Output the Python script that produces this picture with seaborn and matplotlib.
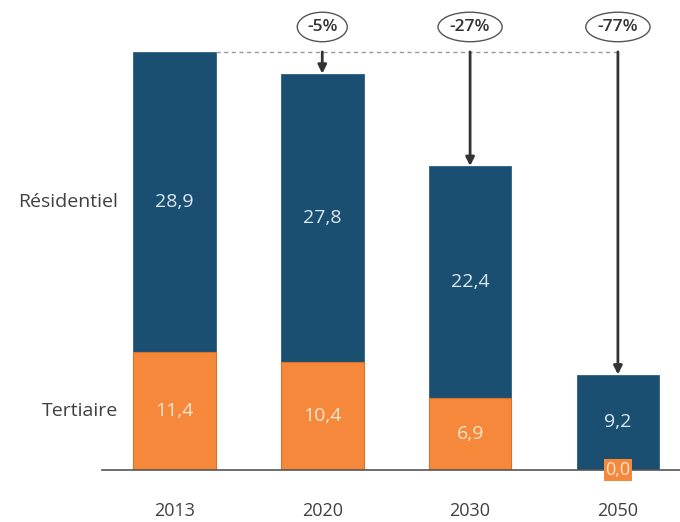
import matplotlib
matplotlib.use('Agg')
import matplotlib.pyplot as plt
import seaborn as sns
import pandas as pd

# Chart data
years = ['2013', '2020', '2030', '2050']
residentiel = [28.9, 27.8, 22.4, 9.2]
tertiaire = [11.4, 10.4, 6.9, 0.0]
reductions = ['-5%', '-27%', '-77%']
categories = ['Résidentiel', 'Tertiaire']

blue = '#1b4f72'
orange = '#f5883a'
grey_text = '#404040'

df = pd.DataFrame({'year': years, 'residentiel': residentiel, 'tertiaire': tertiaire})
df['total'] = df['residentiel'] + df['tertiaire']

sns.set_style('white')
plt.rcParams['font.family'] = ['Open Sans', 'DejaVu Sans']

fig = plt.figure(figsize=(6.8, 5.22), dpi=100)
ax = fig.add_axes([0.15, 0.0996, 0.85, 0.9004])

bar_w = 0.56
# stacked look: total bars in blue, tertiaire bars in orange on top of them
sns.barplot(data=df, x='year', y='total', color=blue, saturation=1, width=bar_w,
            order=years, ax=ax, edgecolor='#2b5f85', linewidth=0.6)
sns.barplot(data=df, x='year', y='tertiaire', color=orange, saturation=1, width=bar_w,
            order=years, ax=ax, edgecolor='#d9722a', linewidth=0.8)

ax.set_xlim(-0.49, 3.42)
ax.set_ylim(0, 45.3)
for s in ['top', 'right', 'left']:
    ax.spines[s].set_visible(False)
ax.spines['bottom'].set_color('#555555')
ax.spines['bottom'].set_linewidth(1.2)
ax.set_yticks([])
ax.set_xlabel('')
ax.set_ylabel('')
ax.tick_params(axis='x', length=0, pad=23, labelsize=13, labelcolor=grey_text)

# value labels
for i, row in df.iterrows():
    ax.text(i, row['tertiaire'] + row['residentiel'] / 2, f"{row['residentiel']:.1f}".replace('.', ','),
            ha='center', va='center', color='#dce8f2', fontsize=14)
    if row['tertiaire'] > 0:
        ax.text(i, row['tertiaire'] / 2, f"{row['tertiaire']:.1f}".replace('.', ','),
                ha='center', va='center', color='#fde6d0', fontsize=14)
    else:
        ax.text(i, 0, f"{row['tertiaire']:.1f}".replace('.', ','), ha='center', va='center',
                color='#fde6d0', fontsize=13, clip_on=False,
                bbox=dict(boxstyle='square,pad=0.1', fc=orange, ec='none'))

# category labels on the left, level with the 2013 segments
ax.text(-0.38, df['tertiaire'][0] + df['residentiel'][0] / 2, categories[0],
        ha='right', va='center', color=grey_text, fontsize=14)
ax.text(-0.38, df['tertiaire'][0] / 2, categories[1],
        ha='right', va='center', color=grey_text, fontsize=14)

# reference line and reduction arrows
ref = df['total'][0]
ax.plot([bar_w / 2, 3], [ref, ref], ls=(0, (3, 2.5)), color='#999999', lw=1)
for i, lab in enumerate(reductions, start=1):
    ax.annotate('', xy=(i, df['total'][i]), xytext=(i, ref),
                arrowprops=dict(arrowstyle='-|>,head_length=0.5,head_width=0.25',
                                color='#333333', lw=2, shrinkA=0, shrinkB=0))
    ax.text(i, 42.7, lab, ha='center', va='center', fontsize=12.5, fontweight='semibold',
            color='#333333',
            bbox=dict(boxstyle='ellipse,pad=0.14', fc='white', ec='#555555', lw=1))

fig.savefig('out.png', dpi=100)
